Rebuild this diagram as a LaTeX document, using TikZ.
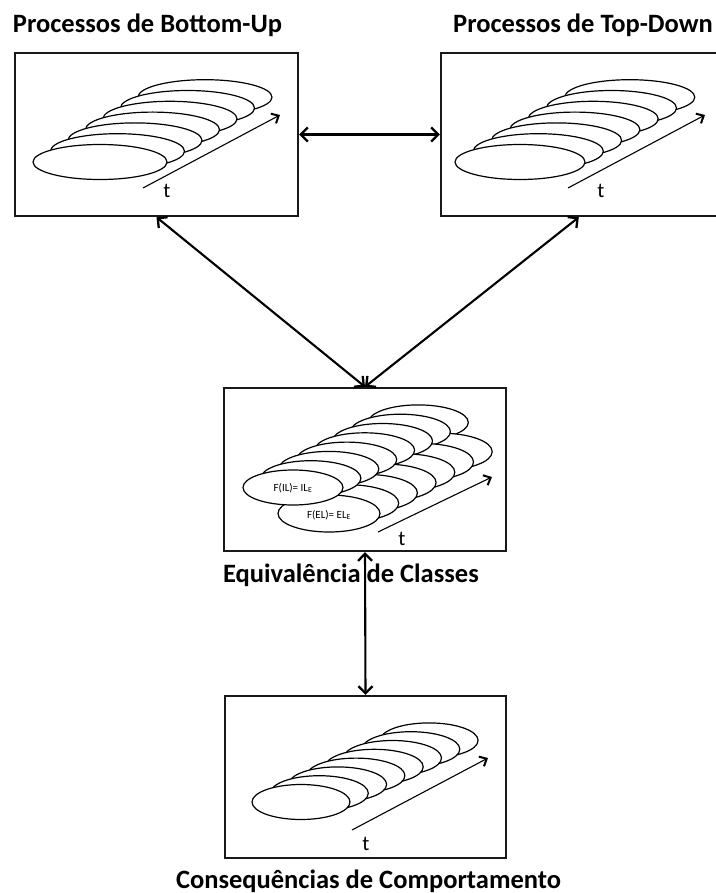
\documentclass[tikz,border=0pt]{standalone}
\usepackage{fontspec}
\setmainfont{Carlito}
\usetikzlibrary{arrows.meta}

% a row of overlapping discs, drawn from the back (index #1) to the front (index 0)
% #1 last index, #2/#3 front centre, #4/#5 step per disc, #6/#7 radii
\newcommand\diskrow[7]{%
  \foreach \k in {#1,...,0}{%
    \draw[disk] ({#2+\k*#4},{#3+\k*#5}) ellipse [x radius=#6pt, y radius=#7pt];
  }%
}

\begin{document}
\begin{tikzpicture}[x=1pt,y=-1pt,
  panel/.style={draw=black!90, line width=2.4pt, fill=white, inner sep=0pt},
  link/.style={line width=2.1pt,
    {Straight Barb[length=7pt,width=14pt,line width=2.3pt]}-{Straight Barb[length=7pt,width=14pt,line width=2.3pt]}},
  disk/.style={draw, line width=1.2pt, fill=white},
  timeline/.style={line width=1.1pt,
    -{Straight Barb[length=6pt,width=11pt,line width=2pt]}},
  heading/.style={font=\fontsize{26.5}{30}\selectfont\bfseries, anchor=base, inner sep=0pt},
  tlabel/.style={font=\fontsize{21}{24}\selectfont, inner sep=0pt},
  flabel/.style={font=\fontsize{11}{12}\selectfont, inner sep=0pt}]

\useasboundingbox (0,0) rectangle (715,893);

% panels
\node[panel, minimum width=283pt, minimum height=163pt] (bu) at (156.5,134.5) {};
\node[panel, minimum width=289pt, minimum height=163pt] (td) at (585.5,134.5) {};
\node[panel, minimum width=282pt, minimum height=163pt] (eq) at (365,469.5) {};
\node[panel, minimum width=281pt, minimum height=162pt] (cc) at (365.5,777) {};

% headings
\node[heading] (hbu) at (147.5,33) {Processos de Bottom-Up};
\node[heading] (htd) at (583,33) {Processos de Top-Down};
\node[heading] (heq) at (351,582) {Equivalência de Classes};
\node[heading] (hcc) at (368.5,888) {Consequências de Comportamento};

% bottom-up discs
\diskrow{6}{100}{162}{17.5}{-10.8}{67}{17.5}
\coordinate (bu0) at (143,188);
\coordinate (bu1) at (280,115);
\draw[timeline] (bu0) -- (bu1);
\node[tlabel] (tbu) at (167,191) {t};

% top-down discs
\diskrow{6}{520}{162}{18.3}{-10.8}{65}{17.5}
\coordinate (td0) at (568,188);
\coordinate (td1) at (705,115);
\draw[timeline] (td0) -- (td1);
\node[tlabel] (ttd) at (601,191) {t};

% class equivalence: two interleaved rows of discs
\foreach \k in {7,...,0}{%
  \ifnum\k<7
    \draw[disk] ({329+\k*18.7},{513.5-\k*10.3}) ellipse [x radius=51pt, y radius=18.5pt];
  \fi
  \draw[disk] ({293+\k*17.9},{487.5-\k*9.3}) ellipse [x radius=50pt, y radius=17.5pt];
}
\node[flabel] (fil) at (293,488) {F(IL)= IL\textsubscript{E}};
\node[flabel] (fel) at (329,515) {F(EL)= EL\textsubscript{E}};
\coordinate (eq0) at (378,532);
\coordinate (eq1) at (492,477);
\draw[timeline] (eq0) -- (eq1);
\node[tlabel] (teq) at (402,539) {t};

% behaviour consequences discs
\diskrow{7}{301}{802}{18.3}{-8.8}{49}{17.5}
\coordinate (cc0) at (352,830);
\coordinate (cc1) at (488,758);
\draw[timeline] (cc0) -- (cc1);
\node[tlabel] (tcc) at (366,844) {t};

% connections between panels
\draw[link] (bu) -- (td);
\draw[link] (bu.south) -- (eq.north);
\draw[link] ([xshift=139pt]td.south west) -- (eq.north);
\draw[link] (eq.south) -- (cc.north);

\end{tikzpicture}
\end{document}
